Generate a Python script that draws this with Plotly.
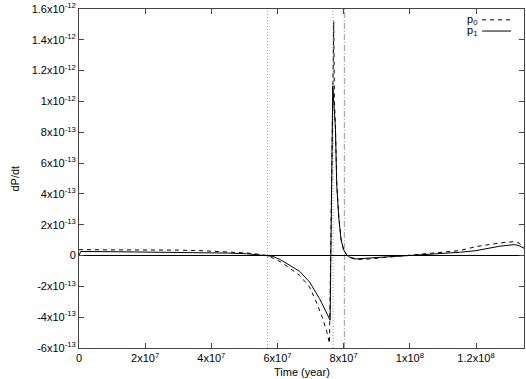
import plotly.graph_objects as go

# p0 (dashed) curve
t_p0 = [0, 1e7, 2e7, 3e7, 3.65e7, 4.5e7, 5.06e7, 5.4e7, 5.7e7, 5.9e7, 6.1e7, 6.37e7,
        6.67e7, 6.97e7, 7.17e7, 7.37e7, 7.49e7, 7.57e7, 7.7e7, 7.72e7, 7.75e7, 7.79e7,
        7.85e7, 7.92e7, 7.99e7, 8.07e7, 8.15e7, 8.37e7, 8.8e7, 9.2e7, 9.68e7, 1.0e8,
        1.05e8, 1.1e8, 1.15e8, 1.2e8, 1.24e8, 1.27e8, 1.315e8, 1.33e8, 1.345e8]
p0 = [3.8e-14, 3.8e-14, 3.7e-14, 3.5e-14, 3.2e-14, 2.4e-14, 1.7e-14, 0.9e-14, 0, -2.0e-14,
      -4.2e-14, -8.2e-14, -1.29e-13, -2.05e-13, -3.0e-13, -4.1e-13, -4.95e-13, -5.7e-13,
      1.52e-12, 1.0e-12, 8.5e-13, 4.7e-13, 2.6e-13, 1.07e-13, 4.3e-14, 1e-14, -1e-14,
      -2.6e-14, -2.2e-14, -1.3e-14, -0.4e-14, 0.3e-14, 1.3e-14, 2.1e-14, 3.2e-14, 5.8e-14,
      7.2e-14, 8.1e-14, 9e-14, 8.1e-14, 5.4e-14]

# p1 (solid) curve
t_p1 = [0, 5e5, 1e7, 2e7, 3e7, 3.65e7, 4.5e7, 5.06e7, 5.4e7, 5.7e7, 5.86e7, 6.1e7, 6.37e7,
        6.67e7, 6.97e7, 7.27e7, 7.47e7, 7.59e7, 7.67e7, 7.72e7, 7.75e7, 7.79e7, 7.85e7,
        7.92e7, 7.99e7, 8.07e7, 8.15e7, 8.37e7, 8.8e7, 9.2e7, 9.68e7, 1.0e8, 1.05e8, 1.1e8,
        1.15e8, 1.2e8, 1.24e8, 1.27e8, 1.315e8, 1.33e8, 1.345e8]
p1 = [0, 2.6e-14, 2.5e-14, 2.3e-14, 2.2e-14, 2.1e-14, 1.6e-14, 1.2e-14, 0.6e-14, 0, -0.5e-14,
      -2.8e-14, -6.5e-14, -1.03e-13, -1.72e-13, -2.8e-13, -3.66e-13, -4.2e-13, 1.1e-12,
      9.6e-13, 8.3e-13, 4.6e-13, 2.5e-13, 1.05e-13, 4.2e-14, 1e-14, -0.8e-14, -2.2e-14,
      -1.8e-14, -1.0e-14, -0.4e-14, 0, 0.6e-14, 1e-14, 2.1e-14, 3.2e-14, 4.8e-14, 6e-14,
      7.1e-14, 6.5e-14, 4.7e-14]

# marker times (vertical lines)
t_dotted = [5.7e7, 7.68e7]
t_dashdot = [8.02e7]

x_ticks = [0, 2e7, 4e7, 6e7, 8e7, 1e8, 1.2e8]
x_labels = ["0", "2x10<sup>7</sup>", "4x10<sup>7</sup>", "6x10<sup>7</sup>",
            "8x10<sup>7</sup>", "1x10<sup>8</sup>", "1.2x10<sup>8</sup>"]
y_ticks = [-6e-13, -4e-13, -2e-13, 0, 2e-13, 4e-13, 6e-13, 8e-13, 1e-12, 1.2e-12, 1.4e-12, 1.6e-12]
y_labels = ["-6x10<sup>-13</sup>", "-4x10<sup>-13</sup>", "-2x10<sup>-13</sup>", "0",
            "2x10<sup>-13</sup>", "4x10<sup>-13</sup>", "6x10<sup>-13</sup>", "8x10<sup>-13</sup>",
            "1x10<sup>-12</sup>", "1.2x10<sup>-12</sup>", "1.4x10<sup>-12</sup>", "1.6x10<sup>-12</sup>"]

fig = go.Figure()

fig.add_trace(go.Scatter(x=t_p0, y=p0, mode='lines', name='p0',
                         line=dict(color='black', width=1, dash='4px,4px'), showlegend=False))
fig.add_trace(go.Scatter(x=t_p1, y=p1, mode='lines', name='p1',
                         line=dict(color='black', width=1), showlegend=False))

# vertical marker lines
for t in t_dotted:
    fig.add_shape(type='line', x0=t, x1=t, y0=0, y1=1, xref='x', yref='paper',
                  line=dict(color='#999', width=1, dash='1px,2px'), layer='below')
for t in t_dashdot:
    fig.add_shape(type='line', x0=t, x1=t, y0=0, y1=1, xref='x', yref='paper',
                  line=dict(color='#999', width=1, dash='6px,2px,1px,2px'), layer='below')

# hand-made legend, gnuplot style (text then sample)
legend_rows = [("p<sub>0</sub>", '4px,4px', 0.968), ("p<sub>1</sub>", 'solid', 0.935)]
for txt, dash, yy in legend_rows:
    fig.add_annotation(x=0.898, y=yy, xref='paper', yref='paper', text=txt, showarrow=False,
                       xanchor='right', yanchor='middle', font=dict(size=11, color='black'))
    fig.add_shape(type='line', x0=0.906, x1=0.971, y0=yy, y1=yy, xref='paper', yref='paper',
                  line=dict(color='black', width=1, dash=dash))

# axis titles
fig.add_annotation(x=0.5, y=-0.072, xref='paper', yref='paper', text='Time (year)',
                   showarrow=False, xanchor='center', yanchor='middle', font=dict(size=11, color='black'))
fig.add_annotation(x=-0.146, y=0.5, xref='paper', yref='paper', text='dP/dt', textangle=-90,
                   showarrow=False, xanchor='center', yanchor='middle', font=dict(size=11, color='black'))

fig.update_layout(
    width=526, height=379,
    margin=dict(l=79, r=1, t=7, b=31),
    plot_bgcolor='white', paper_bgcolor='white',
    font=dict(family='Liberation Sans, Arial, sans-serif', size=11, color='black'),
    xaxis=dict(range=[0, 1.345e8], tickvals=x_ticks, ticktext=x_labels, ticks='inside',
               ticklen=5, tickcolor='#444', showline=True, linecolor='#444', linewidth=1,
               mirror='ticks', showgrid=False, zeroline=False, ticklabeloverflow='allow'),
    yaxis=dict(range=[-6e-13, 1.6e-12], tickvals=y_ticks, ticktext=y_labels, ticks='inside',
               ticklen=5, tickcolor='#444', showline=True, linecolor='#444', linewidth=1,
               mirror='ticks', showgrid=False, zeroline=True, zerolinecolor='black',
               zerolinewidth=1, ticklabeloverflow='allow'),
)

# drop the page's default body margin so the chart sits at the window's corner
fig.write_html("out.html", config={'displayModeBar': False},
               post_script="document.body.style.margin='0';document.body.style.overflow='hidden';")
